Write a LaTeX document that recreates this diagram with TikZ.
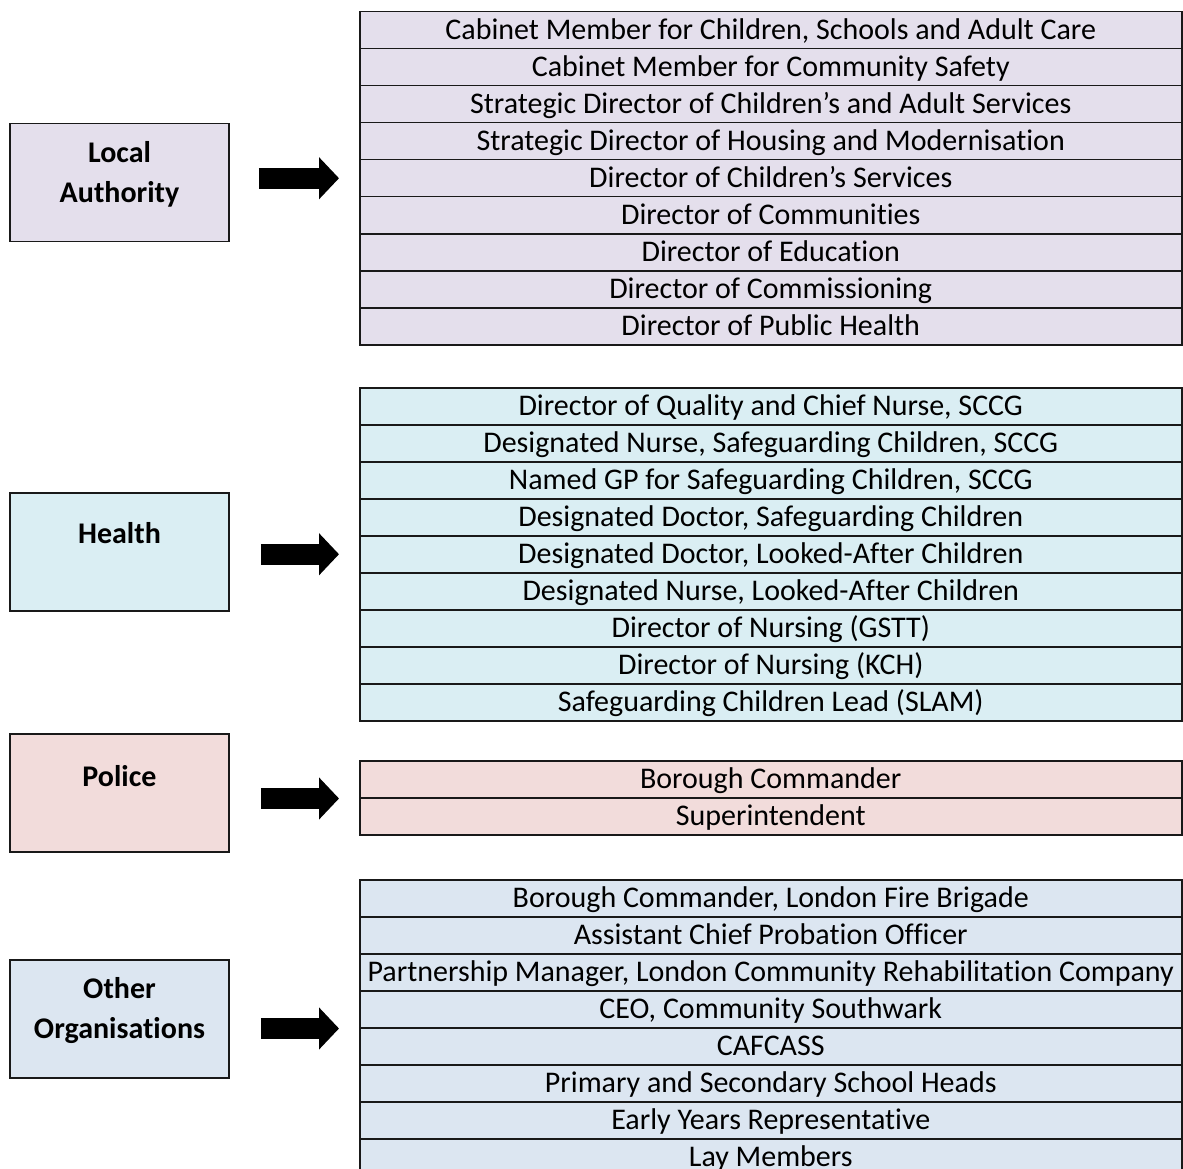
\documentclass[tikz,border=0pt]{standalone}
\usepackage{fontspec}
\setmainfont{Carlito}[Ligatures=NoCommon]
\usetikzlibrary{arrows.meta}

\definecolor{lapurple}{HTML}{E4DFEC}
\definecolor{healthblue}{HTML}{DAEEF3}
\definecolor{policepink}{HTML}{F2DCDB}
\definecolor{otherblue}{HTML}{DCE6F1}

\tikzset{
  rowbox/.style={draw=black!90, line width=1.5pt, minimum width=822pt, minimum height=37pt,
    inner sep=0pt, anchor=north west, text height=23pt, text depth=5pt, font=\fontsize{30}{34}\selectfont},
  groupbox/.style={draw=black!90, line width=1.5pt, minimum width=219pt, minimum height=118pt, inner sep=0pt},
  grouptext/.style={font=\bfseries\fontsize{30}{40}\selectfont, align=center, inner sep=0pt},
  blockarrow/.style={line width=21pt, -{Triangle[length=20pt,width=41pt]}}
}

\begin{document}
\begin{tikzpicture}[x=1pt, y=-1pt]
            \useasboundingbox (0,0) rectangle (1183,1169);

            % local authority
            \node[groupbox, fill=lapurple] (la) at (119.5,182.5) {};
            \node[grouptext] (la-text) at (119.5,174) {Local\\Authority};
            \node[rowbox, fill=lapurple] (la1) at (359,11) {Cabinet Member for Children, Schools and Adult Care};
            \node[rowbox, fill=lapurple] (la2) at (359,48) {Cabinet Member for Community Safety};
            \node[rowbox, fill=lapurple] (la3) at (359,85) {Strategic Director of Children’s and Adult Services};
            \node[rowbox, fill=lapurple] (la4) at (359,122) {Strategic Director of Housing and Modernisation};
            \node[rowbox, fill=lapurple] (la5) at (359,159) {Director of Children’s Services};
            \node[rowbox, fill=lapurple] (la6) at (359,196) {Director of Communities};
            \node[rowbox, fill=lapurple] (la7) at (359,233) {Director of Education};
            \node[rowbox, fill=lapurple] (la8) at (359,270) {Director of Commissioning};
            \node[rowbox, fill=lapurple] (la9) at (359,307) {Director of Public Health};
            \draw[blockarrow] ([xshift=29pt]la.east |- la5.west) -- ([xshift=-20pt]la5.west);

            % health
            \node[groupbox, fill=healthblue] (he) at (119.5,552) {};
            \node[grouptext] (he-text) at (119.5,533) {Health};
            \node[rowbox, fill=healthblue] (he1) at (359,387) {Director of Quality and Chief Nurse, SCCG};
            \node[rowbox, fill=healthblue] (he2) at (359,424) {Designated Nurse, Safeguarding Children, SCCG};
            \node[rowbox, fill=healthblue] (he3) at (359,461) {Named GP for Safeguarding Children, SCCG};
            \node[rowbox, fill=healthblue] (he4) at (359,498) {Designated Doctor, Safeguarding Children};
            \node[rowbox, fill=healthblue] (he5) at (359,535) {Designated Doctor, Looked-After Children};
            \node[rowbox, fill=healthblue] (he6) at (359,572) {Designated Nurse, Looked-After Children};
            \node[rowbox, fill=healthblue] (he7) at (359,609) {Director of Nursing (GSTT)};
            \node[rowbox, fill=healthblue] (he8) at (359,646) {Director of Nursing (KCH)};
            \node[rowbox, fill=healthblue] (he9) at (359,683) {Safeguarding Children Lead (SLAM)};
            \draw[blockarrow] ([xshift=31pt]he.east |- he5.west) -- ([xshift=-20pt]he5.west);

            % police
            \node[groupbox, fill=policepink] (po) at (119.5,793) {};
            \node[grouptext] (po-text) at (119.5,776) {Police};
            \node[rowbox, fill=policepink] (po1) at (359,760) {Borough Commander};
            \node[rowbox, fill=policepink] (po2) at (359,797) {Superintendent};
            \draw[blockarrow] ([xshift=31pt]po.east |- po1.south west) -- ([xshift=-20pt]po1.south west);

            % other organisations
            \node[groupbox, fill=otherblue] (ot) at (119.5,1019) {};
            \node[grouptext] (ot-text) at (119.5,1011) {Other\\Organisations};
            \node[rowbox, fill=otherblue] (ot1) at (359,879) {Borough Commander, London Fire Brigade};
            \node[rowbox, fill=otherblue] (ot2) at (359,916) {Assistant Chief Probation Officer};
            \node[rowbox, fill=otherblue] (ot3) at (359,953) {Partnership Manager, London Community Rehabilitation Company};
            \node[rowbox, fill=otherblue] (ot4) at (359,990) {CEO, Community Southwark};
            \node[rowbox, fill=otherblue] (ot5) at (359,1027) {CAFCASS};
            \node[rowbox, fill=otherblue] (ot6) at (359,1064) {Primary and Secondary School Heads};
            \node[rowbox, fill=otherblue] (ot7) at (359,1101) {Early Years Representative};
            \node[rowbox, fill=otherblue] (ot8) at (359,1138) {Lay Members};
            \draw[blockarrow] ([xshift=31pt]ot.east |- ot4.south west) -- ([xshift=-20pt]ot4.south west);
        \end{tikzpicture}
\end{document}
